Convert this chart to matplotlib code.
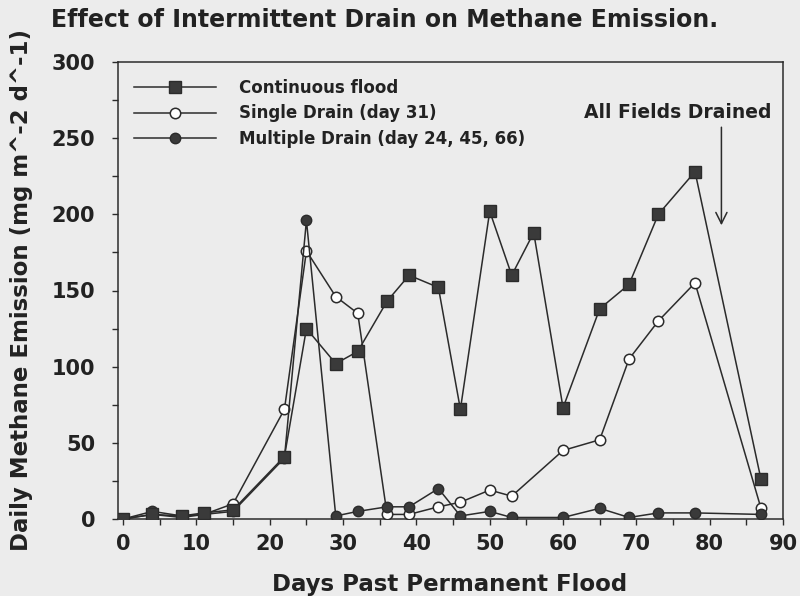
"""Effect of intermittent drain on methane emission (scanned figure redraw)."""

import matplotlib
matplotlib.use('Agg')
from matplotlib import pyplot
import numpy

# Days past permanent flood and daily methane emission (mg m^-2 d^-1).
days_cont = [0, 4, 8, 11, 15, 22, 25, 29, 32, 36, 39, 43, 46, 50, 53, 56,
             60, 65, 69, 73, 78, 87]
cont_flood = [0, 3, 2, 4, 6, 41, 125, 102, 110, 143, 160, 152, 72, 202, 160,
              188, 73, 138, 154, 200, 228, 26]

days_single = [0, 4, 8, 11, 15, 22, 25, 29, 32, 36, 39, 43, 46, 50, 53,
               60, 65, 69, 73, 78, 87]
single_drain = [0, 3, 1, 3, 10, 72, 176, 146, 135, 3, 3, 8, 11, 19, 15,
                45, 52, 105, 130, 155, 7]

days_multi = [0, 4, 8, 11, 15, 22, 25, 29, 32, 36, 39, 43, 46, 50, 53,
              60, 65, 69, 73, 78, 87]
multi_drain = [0, 5, 2, 3, 5, 40, 196, 2, 5, 8, 8, 20, 2, 5, 1,
               1, 7, 1, 4, 4, 3]

labels = ['Continuous flood', 'Single Drain (day 31)',
          'Multiple Drain (day 24, 45, 66)']
xticks = [0, 10, 20, 30, 40, 50, 60, 70, 80, 90]
yticks = [0, 50, 100, 150, 200, 250, 300]

ink = '#2b2b2b'
paper = '#ececec'

fig = pyplot.figure(figsize=(8.0, 5.96), dpi=100, facecolor=paper)
ax = fig.add_axes([118 / 800, 77 / 596, 665 / 800, 457 / 596])
ax.set_facecolor(paper)

ax.plot(days_single, single_drain, color=ink, linewidth=1.1, marker='o',
        markersize=7.5, markerfacecolor='white', markeredgecolor=ink,
        markeredgewidth=1.1, label=labels[1], zorder=3)
ax.plot(days_multi, multi_drain, color=ink, linewidth=1.1, marker='o',
        markersize=7.5, markerfacecolor='#3a3a3a', markeredgecolor=ink,
        label=labels[2], zorder=4)
ax.plot(days_cont, cont_flood, color=ink, linewidth=1.1, marker='s',
        markersize=8, markerfacecolor='#3a3a3a', markeredgecolor=ink,
        label=labels[0], zorder=5)

handles, lbls = ax.get_legend_handles_labels()
order = [2, 0, 1]
leg = ax.legend([handles[i] for i in order], [lbls[i] for i in order],
                loc='upper left', bbox_to_anchor=(0.024, 0.963),
                frameon=False, handlelength=4.9, handletextpad=1.4,
                labelspacing=0.45, borderpad=0, borderaxespad=0,
                prop={'weight': 'bold', 'size': 12})
for text in leg.get_texts():
    text.set_color('#222222')

# Drain annotation.
ax.annotate('', xy=(81.6, 191), xytext=(81.6, 259),
            arrowprops=dict(arrowstyle='->', color=ink, linewidth=1.1,
                            mutation_scale=20))
ax.text(75.7, 267, 'All Fields Drained', ha='center', va='center',
        fontsize=13.5, fontweight='bold', color='#222222')

ax.set_xlim(-0.7, 89.8)
ax.set_ylim(0, 300)
ax.set_xticks(xticks)
ax.set_xticks(numpy.arange(5, 90, 10), minor=True)
ax.set_yticks(yticks)
ax.set_yticks(numpy.arange(25, 300, 50), minor=True)
ax.tick_params(axis='both', which='both', direction='out', length=4.5,
               width=1.0, color=ink)
ax.tick_params(axis='both', which='major', labelsize=15, labelcolor='#222222')
ax.tick_params(axis='y', which='major', pad=12)
ax.tick_params(axis='x', which='major', pad=6)
for label in ax.get_xticklabels() + ax.get_yticklabels():
    label.set_fontweight('bold')
for spine in ax.spines.values():
    spine.set_color(ink)
    spine.set_linewidth(1.1)

fig.text(51 / 800, 1 - 20 / 596,
         'Effect of Intermittent Drain on Methane Emission.',
         ha='left', va='center', fontsize=17, fontweight='bold',
         color='#222222')
fig.text(450 / 800, 1 - 585 / 596, 'Days Past Permanent Flood',
         ha='center', va='center', fontsize=16.5, fontweight='bold',
         color='#222222')
fig.text(22 / 800, 1 - 290 / 596, 'Daily Methane Emission (mg m^-2 d^-1)',
         ha='center', va='center', rotation=90, fontsize=16.5,
         fontweight='bold', color='#222222')

fig.savefig('out.png', dpi=100, facecolor=paper)
